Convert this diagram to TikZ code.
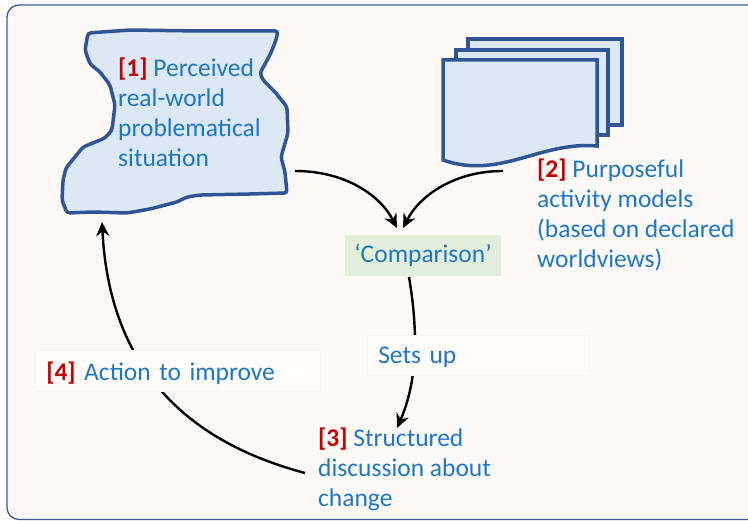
\documentclass[tikz,border=0pt]{standalone}
\usepackage{fontspec}
\setmainfont{Carlito}
\usetikzlibrary{arrows.meta}

\definecolor{framebg}{HTML}{FDF9F6}
\definecolor{frameline}{HTML}{3A5A9A}
\definecolor{sheetfill}{HTML}{DDE8F5}
\definecolor{sheetline}{HTML}{2F5597}
\definecolor{cmpfill}{HTML}{E2EFDA}
\definecolor{txtblue}{HTML}{1F77C4}
\definecolor{numred}{HTML}{C00000}
\definecolor{tagfill}{HTML}{FFFCFA}
\definecolor{tagline}{HTML}{F8F4F1}

\newcommand{\stepno}[1]{\textcolor{numred}{\textbf{[#1]}}}

\begin{document}
\begin{tikzpicture}[x=1pt,y=-1pt,
	hand/.style={font=\fontsize{25.5}{30}\selectfont, text=txtblue, align=left, inner sep=0pt},
	sheet/.style={draw=sheetline, fill=sheetfill, line width=3.5pt},
	flow/.style={draw=black, line width=2.4pt, -{Stealth[length=14pt,width=13pt,inset=4.5pt]}},
	tag/.style={fill=tagfill, draw=tagline, line width=0.5pt, anchor=north west,
		font=\fontsize{25.5}{30}\selectfont, text=txtblue, align=left, inner xsep=11pt, inner ysep=5.5pt}]
	
	\useasboundingbox (0,0) rectangle (748,521);
	\clip (0,0) rectangle (748,521);
	\fill[white] (0,0) rectangle (748,521);
	\draw[fill=framebg, draw=frameline, line width=1.3pt, rounded corners=12pt] (7,5) rectangle (790,519.5);
	
	% problem situation
	\draw[sheet, rounded corners=3pt] (88,33) -- (130,30) -- (200,31) -- (278,31) -- (276,40)
		-- (270,55) -- (260,73) -- (263,80) -- (275,92) -- (287,107) -- (288,133) -- (281,157)
		-- (285,172) -- (287,193) -- (250,194) -- (200,195) -- (187,197) -- (177,202) -- (150,209)
		-- (127,213) -- (93,212) -- (67,213) -- (62,200) -- (63,180) -- (66,168) -- (83,147)
		-- (105,138) -- (112,130) -- (115,105) -- (110,85) -- (100,72) -- (90,64) -- (85,50) -- cycle;
	
	% stack of models
	\draw[sheet] (468,39) rectangle (622,125);
	\draw[sheet] (456,50) rectangle (608,135);
	\draw[sheet] (443,60) -- (597,60) -- (597,146) .. controls (540,141) and (500,180) .. (443,160) -- cycle;
	
	% base = last line
	\node[hand, anchor=base west] (sit) at (118,167) {\stepno{1} Perceived\\real-world\\problematical\\situation};
	\node[hand, anchor=base west] (mod) at (537,268) {\stepno{2} Purposeful\\activity models\\(based on declared\\worldviews)};
	\node[fill=cmpfill, minimum width=156pt, minimum height=41pt, inner sep=0pt,
		font=\fontsize{25.5}{30}\selectfont, text=txtblue] (cmp) at (423,255.5) {`Comparison'};
	\node[hand, anchor=base west] (disc) at (318,507) {\stepno{3} Structured\\discussion about\\change};
	
	\coordinate (sit-out) at (295,171);
	\coordinate (mod-out) at (503,171);
	\coordinate (cmp-l) at (397,228);
	\coordinate (cmp-r) at (403,228);
	\coordinate (cmp-out) at (409,277);
	\coordinate (disc-in) at (397,428);
	\coordinate (disc-out) at (305,473);
	\coordinate (sit-in) at (102,222);
	
	\draw[flow] (sit-out) .. controls (345,171) and (380,195) .. (cmp-l);
	\draw[flow] (mod-out) .. controls (455,171) and (420,195) .. (cmp-r);
	\draw[flow] (cmp-out) .. controls (418,330) and (418,380) .. (disc-in);
	\draw[flow] (disc-out) .. controls (200,445) and (110,380) .. (sit-in);
	
	\node[tag, text width=200pt, text height=22.5pt, text depth=6.5pt] (setsup) at (367,335) {Sets up};
	\node[tag, text width=263pt, text height=24.5pt, text depth=5.5pt] (act) at (35,350) {\stepno{4} Action to improve};
	
\end{tikzpicture}
\end{document}
